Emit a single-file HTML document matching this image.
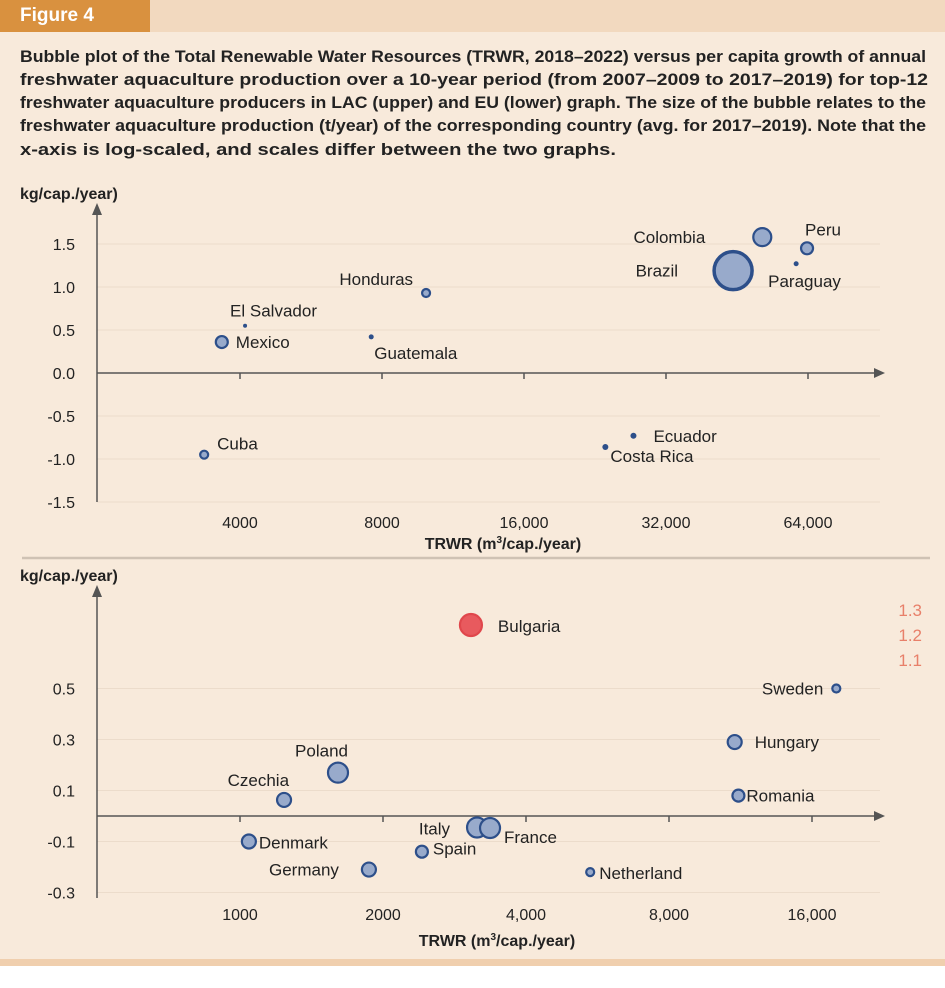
<!DOCTYPE html>
<html><head><meta charset="utf-8">
<style>
body{margin:0;width:945px;height:988px;background:#fff;font-family:"Liberation Sans",sans-serif;overflow:hidden}
#bg{position:absolute;left:0;top:0;width:945px;height:959px;background:#f8eadb}
#band{position:absolute;left:0;top:0;width:945px;height:32px;background:#f2d9bf}
#tab{position:absolute;left:0;top:0;width:150px;height:32px;background:#d9913f;color:#fff;font-weight:bold;font-size:19px;line-height:32px;padding-left:20px;box-sizing:border-box}
#bot{position:absolute;left:0;top:959px;width:945px;height:7px;background:#f0cfae}
svg{position:absolute;left:0;top:0}
</style></head><body>
<div id="bg"></div>
<div id="band"></div>
<div id="tab">Figure 4</div>
<div id="bot"></div>
<svg width="945" height="170" style="font-weight:bold;font-size:17px;fill:#222">
<text x="20" y="62" textLength="906" lengthAdjust="spacingAndGlyphs">Bubble plot of the Total Renewable Water Resources (TRWR, 2018–2022) versus per capita growth of annual</text>
<text x="20" y="85" textLength="908" lengthAdjust="spacingAndGlyphs">freshwater aquaculture production over a 10-year period (from 2007–2009 to 2017–2019) for top-12</text>
<text x="20" y="108" textLength="906" lengthAdjust="spacingAndGlyphs">freshwater aquaculture producers in LAC (upper) and EU (lower) graph. The size of the bubble relates to the</text>
<text x="20" y="131" textLength="906" lengthAdjust="spacingAndGlyphs">freshwater aquaculture production (t/year) of the corresponding country (avg. for 2017–2019). Note that the</text>
<text x="20" y="155" textLength="596" lengthAdjust="spacingAndGlyphs">x-axis is log-scaled, and scales differ between the two graphs.</text>
</svg>
<svg id="chart" width="945" height="988"></svg>
<script>
const lacNames=["Cuba","Mexico","El Salvador","Guatemala","Honduras","Costa Rica","Ecuador","Brazil","Colombia","Paraguay","Peru"];
const lacX=[3358,3660,4100,7590,9920,23800,27300,44400,51200,60400,63700];
const lacY=[-0.95,0.36,0.55,0.42,0.93,-0.86,-0.73,1.19,1.58,1.27,1.45];
const lacR=[4,6,2,2.5,4,3,3,19,9,2.5,6];
const lacLab=[[13,-5,"start"],[14,6,"start"],[-15,-9,"start"],[3,22,"start"],[-13,-8,"end"],[5,15,"start"],[20,6,"start"],[-55,6,"end"],[-57,6,"end"],[-28,23,"start"],[-2,-13,"start"]];
const lacXTicks=[4000,8000,16000,32000,64000];
const lacXTickLabels=["4000","8000","16,000","32,000","64,000"];
const lacYTicks=[1.5,1.0,0.5,0.0,-0.5,-1.0,-1.5];
const lacYTickLabels=["1.5","1.0","0.5","0.0","-0.5","-1.0","-1.5"];

const euNames=["Bulgaria","Sweden","Hungary","Romania","Czechia","Poland","Denmark","Germany","Spain","Italy","France","Netherland"];
const euX=[3063,18000,11000,11200,1238,1608,1044,1868,2415,3155,3360,5460];
const euY=[1.24,0.50,0.29,0.08,0.063,0.17,-0.10,-0.21,-0.14,-0.045,-0.047,-0.22];
const euR=[11,4,7,6,7,10,7,7,6,10,10,4];
const euLab=[[27,7,"start"],[-13,6,"end"],[20,6,"start"],[8,6,"start"],[5,-14,"end"],[10,-16,"end"],[10,7,"start"],[-30,6,"end"],[11,3,"start"],[-27,7,"end"],[14,15,"start"],[9,7,"start"]];
const euXTicks=[1000,2000,4000,8000,16000];
const euXTickLabels=["1000","2000","4,000","8,000","16,000"];
const euYTicks=[0.5,0.3,0.1,-0.1,-0.3];
const euYTickLabels=["0.5","0.3","0.1","-0.1","-0.3"];
const euBreakTicks=[1.3,1.2,1.1];

const NS="http://www.w3.org/2000/svg";
const svg=document.getElementById("chart");
function mk(t,a,txt){const e=document.createElementNS(NS,t);for(const k in a)e.setAttribute(k,a[k]);if(txt!==undefined)e.textContent=txt;svg.appendChild(e);return e;}

const lacXs=v=>240+142*Math.log2(v/4000);
const lacYs=v=>373-86*v;
const euXs=v=>240+143*Math.log2(v/1000);
const euYs=v=>v>0.8?635-(v-1.2)*250:816-255*v;

function panel(o){
  o.yTicks.forEach((t,i)=>{
    const y=o.ys(t);
    if(t!==0){const g=mk("line",{x1:o.x0,x2:880,y1:y,y2:y,stroke:"#ecdccb","stroke-width":1});
    }
    const l=mk("text",{x:o.x0-22,y:y+6,"text-anchor":"end","font-size":"16",fill:"#222"},o.yLabels[i]);
    
  });
  const ya=mk("line",{x1:o.x0,x2:o.x0,y1:o.yTop+10,y2:o.yBot,stroke:"#555","stroke-width":1.5});
  
  const yh=mk("polygon",{points:`${o.x0-5},${o.yTop+12} ${o.x0+5},${o.yTop+12} ${o.x0},${o.yTop}`,fill:"#555"});
  
  const x0y=o.ys(0);
  const xa=mk("line",{x1:o.x0,x2:876,y1:x0y,y2:x0y,stroke:"#555","stroke-width":1.5});
  
  const xh=mk("polygon",{points:`874,${x0y-5} 874,${x0y+5} 885,${x0y}`,fill:"#555"});
  
  o.xTicks.forEach((t,i)=>{
    const x=o.xs(t);
    const tk=mk("line",{x1:x,x2:x,y1:x0y,y2:x0y+6,stroke:"#555","stroke-width":1.5});
    
    const l=mk("text",{x:x,y:o.xLabY,"text-anchor":"middle","font-size":"16",fill:"#222"},o.xLabels[i]);
    
  });
  const yt=mk("text",{x:20,y:o.yTop-4,"font-size":"16","font-weight":"bold",fill:"#222"},"kg/cap./year)");
  
  const xt=mk("text",{x:o.xTitleX,y:o.xTitleY,"text-anchor":"middle","font-size":"16","font-weight":"bold",fill:"#222"});
  xt.innerHTML='TRWR (m<tspan font-size="10" dy="-6">3</tspan><tspan dy="6">/cap./year)</tspan>';
  
  o.names.forEach((n,i)=>{
    const cx=o.xs(o.xv[i]),cy=o.ys(o.yv[i]);
    const red=n==="Bulgaria";
    const small=o.r[i]<=3;
    const c=mk("circle",{cx:cx,cy:cy,r:o.r[i],fill:red?"#e85a5e":(small?"#2d4f8a":"#98aacb"),stroke:red?"#e0474c":"#2d4f8a","stroke-width":small?0:(o.r[i]>15?3.5:2.2)});
    
    
    const lb=o.lab[i];
    const t=mk("text",{x:cx+lb[0],y:cy+lb[1],"text-anchor":lb[2],"font-size":"17",fill:"#222"},n);
    
  });
}
panel({names:lacNames,xv:lacX,yv:lacY,r:lacR,lab:lacLab,xs:lacXs,ys:lacYs,xTicks:lacXTicks,xLabels:lacXTickLabels,yTicks:lacYTicks,yLabels:lacYTickLabels,x0:97,yTop:203,yBot:502,xLabY:528,xTitleX:503,xTitleY:549});
const sep=mk("line",{x1:22,x2:930,y1:558,y2:558,stroke:"#cfc2b4","stroke-width":2.5});

panel({names:euNames,xv:euX,yv:euY,r:euR,lab:euLab,xs:euXs,ys:euYs,xTicks:euXTicks,xLabels:euXTickLabels,yTicks:euYTicks,yLabels:euYTickLabels,x0:97,yTop:585,yBot:898,xLabY:920,xTitleX:497,xTitleY:946});
euBreakTicks.forEach(t=>{
  const l=mk("text",{x:922,y:euYs(t)+6,"text-anchor":"end","font-size":"17",fill:"#e8806a"},t.toFixed(1));
  
});
</script>
</body></html>
